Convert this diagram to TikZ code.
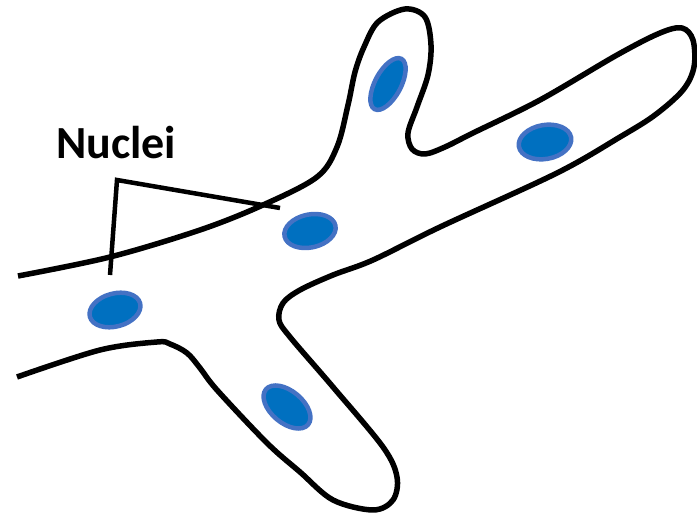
\documentclass[tikz,border=0pt]{standalone}
\usepackage{fontspec}
\newfontfamily\labelfont{Carlito}
\usetikzlibrary{shapes.geometric}

\definecolor{nucfill}{HTML}{0070C0}
\definecolor{nucedge}{HTML}{4472C4}

\begin{document}
\begin{tikzpicture}[x=1pt,y=-1pt,
        cell/.style={draw=black,line width=5.5pt,line join=round},
        nucleus/.style={ellipse,draw=nucedge,fill=nucfill,line width=4.5pt,inner sep=0pt},
        pointer/.style={draw=black,line width=4.5pt,line join=miter}]

    \useasboundingbox (0,0) rectangle (697,521);

    % cell outline
    \draw[cell] plot[smooth,tension=0.55] coordinates {
        (18,276) (110,257) (200,230) (263,205) (317,177) (337,147) (348,105)
        (355,72) (364,47) (378,22) (405,9) (425,17) (431,45) (428,75)
        (417,107) (408,133) (412,149) (425,154) (445,147) (473,133)
        (540,100) (617,55) (660,33) (682,28) (693,40) (694,67) (683,90)
        (655,115) (620,137) (557,173) (440,227) (373,260) (333,275)
        (300,290) (283,303) (279,320) (290,337) (333,387) (383,447)
        (397,477) (393,500) (373,510) (333,500) (300,472) (267,443)
        (217,390) (200,368) (187,353) (170,344) (157,342) (100,350) (17,377)};

    % nuclei
    \node[nucleus,minimum width=52pt,minimum height=33pt,rotate=12] (mid) at (310,231) {};
    \node[nucleus,minimum width=57pt,minimum height=26pt,rotate=62] (top) at (388,84) {};
    \node[nucleus,minimum width=53pt,minimum height=34pt,rotate=10] (right) at (545,142) {};
    \node[nucleus,minimum width=52pt,minimum height=33pt,rotate=15] (left) at (115,310) {};
    \node[nucleus,minimum width=55pt,minimum height=32pt,rotate=-40] (bottom) at (287,407) {};

    % label
    \node[font=\labelfont\bfseries\fontsize{46}{50}\selectfont] (label) at (116,143) {Nuclei};
    \coordinate (apex) at (117,180);
    \coordinate (tomid) at (280,208);
    \coordinate (toleft) at (110,275);
    \draw[pointer] (toleft) -- (apex) -- (tomid);

\end{tikzpicture}
\end{document}
